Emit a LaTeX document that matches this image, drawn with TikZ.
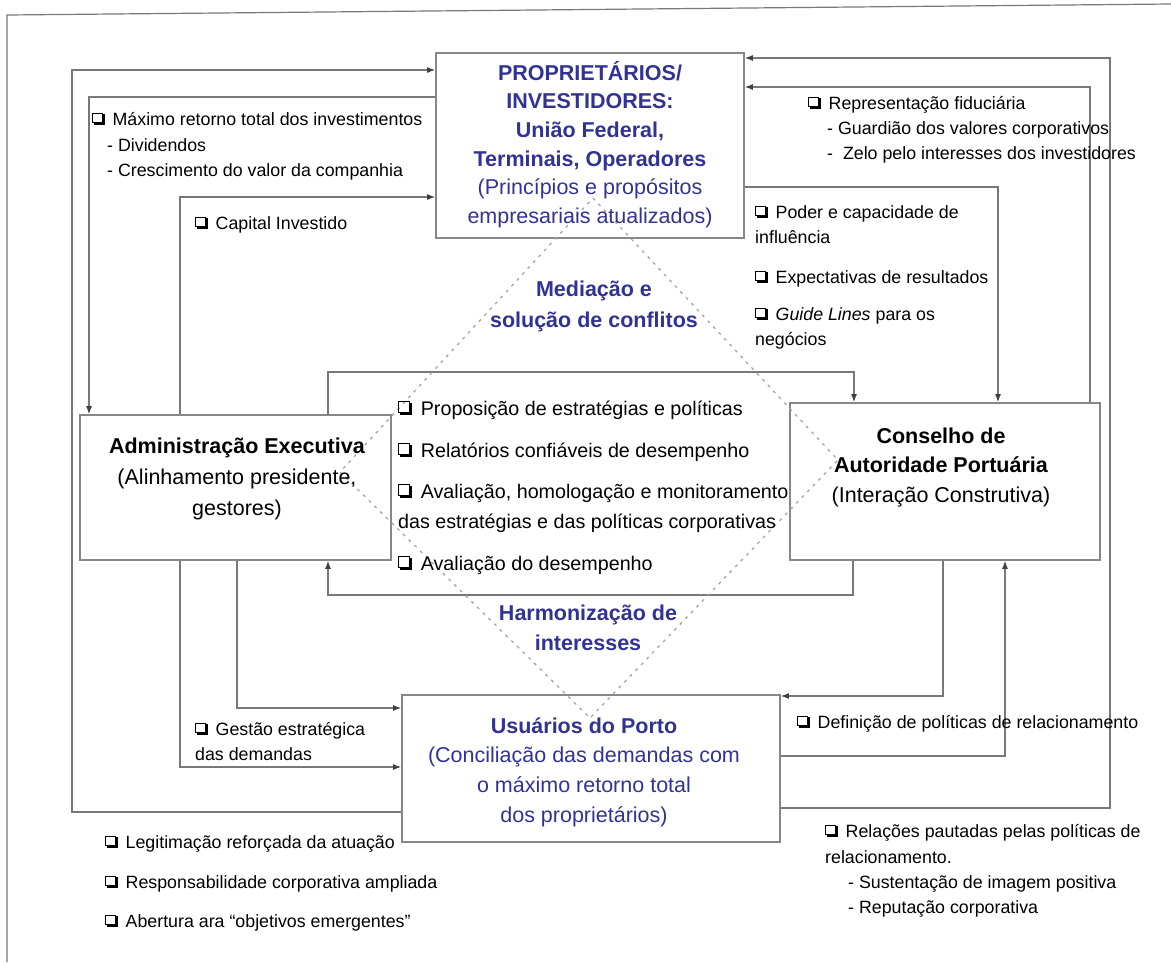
\documentclass[tikz,border=0pt]{standalone}
\usepackage{fontspec}
\setmainfont{Liberation Sans}
\usetikzlibrary{arrows.meta}
\definecolor{tblue}{RGB}{50,50,150}
\definecolor{lgray}{RGB}{120,120,120}
\definecolor{bgray}{RGB}{135,135,135}
\definecolor{dgray}{RGB}{165,165,165}
\newcommand\qglyph{%
  \rlap{\kern0.1em\rule{0.6em}{0.1em}}%
  \rlap{\kern0.6em\rule{0.1em}{0.6em}}%
  \rlap{\rule[0.1em]{0.06em}{0.6em}}%
  \rlap{\rule[0.64em]{0.6em}{0.06em}}%
  \rlap{\rule[0.1em]{0.6em}{0.06em}}%
  \rlap{\kern0.54em\rule[0.1em]{0.06em}{0.6em}}}
\newcommand\qbox{\makebox[1.15em][l]{\qglyph}}
\newcommand\st{\rule{0pt}{1em}}
\begin{document}
\begin{tikzpicture}[x=1pt,y=-1pt,
  small/.style={font=\fontsize{17.8}{26}\selectfont, inner sep=0pt, anchor=base west},
  mid/.style={font=\fontsize{19.7}{28}\selectfont, inner sep=0pt, anchor=base west},
  big/.style={inner sep=0pt, align=center, anchor=north},
  boxn/.style={draw=bgray, line width=1.6pt, inner sep=0pt},
  ln/.style={draw=lgray, line width=1.3pt},
  arr/.style={ln, -{Latex[length=8pt,width=6pt,color=black!75]}},
  dia/.style={draw=dgray, line width=1.3pt, dash pattern=on 3pt off 5pt}]
\useasboundingbox (0,0) rectangle (1171,962);
% frame
\draw[draw=lgray, line width=1.2pt] (7,962) -- (7,15) -- (1171,4);
% boxes
\node[boxn, minimum width=308pt, minimum height=185pt] (prop) at (590,145.5) {};
\node[boxn, minimum width=311pt, minimum height=145pt] (admin) at (235.5,487.5) {};
\node[boxn, minimum width=310pt, minimum height=157pt] (cons) at (945,481.5) {};
\node[boxn, minimum width=378pt, minimum height=147pt] (usu) at (591,768.5) {};
% connectors
\draw[arr] (usu.west |- 0,812) -| (72,70) -- (prop.west |- 0,70);
\draw[arr] (prop.west |- 0,97) -| (89,0 |- admin.north);
\draw[arr] (180,0 |- admin.north) |- (prop.west |- 0,197);
\draw[arr] (328,0 |- admin.north) |- (854,372) -- (854,0 |- cons.north);
\draw[arr] (prop.east |- 0,187) -| (998,0 |- cons.north);
\draw[arr] (1090,0 |- cons.north) |- (prop.east |- 0,87);
\draw[arr] (usu.east |- 0,808) -| (1110,58) -- (prop.east |- 0,58);
\draw[arr] (853,0 |- cons.south) |- (328,595) -- (328,0 |- admin.south);
\draw[arr] (237,0 |- admin.south) |- (usu.west |- 0,708);
\draw[arr] (180,0 |- admin.south) |- (usu.west |- 0,767);
\draw[arr] (943,0 |- cons.south) |- (usu.east |- 0,696);
\draw[arr] (usu.east |- 0,756) -| (1005,0 |- cons.south);
% diamond
\draw[dia] (593,198) -- (838,460) -- (590,718) -- (340,472) -- cycle;
% box texts
\node[big, text=tblue, font=\fontsize{21.5}{28.6}\selectfont] (ptxt) at (590,58.5)
  {\st\textbf{PROPRIETÁRIOS/}\\\textbf{INVESTIDORES:}\\\textbf{União Federal,}\\\textbf{Terminais, Operadores}\\(Princípios e propósitos\\empresariais atualizados)};
\node[big, font=\fontsize{21.5}{31}\selectfont] (atxt) at (237,431.5)
  {\st\textbf{Administração Executiva}\\(Alinhamento presidente,\\gestores)};
\node[big, font=\fontsize{21.5}{29.5}\selectfont] (ctxt) at (941,421.5)
  {\st\textbf{Conselho de}\\\textbf{Autoridade Portuária}\\(Interação Construtiva)};
\node[big, text=tblue, font=\fontsize{21.5}{29.7}\selectfont] (utxt) at (584,711.5)
  {\st\textbf{Usuários do Porto}\\(Conciliação das demandas com\\o máximo retorno total\\dos proprietários)};
\node[big, text=tblue, font=\bfseries\fontsize{21.5}{31}\selectfont] (med) at (594,274.5)
  {\st Mediação e\\solução de conflitos};
\node[big, text=tblue, font=\bfseries\fontsize{21.5}{30}\selectfont] (har) at (588,598.5)
  {\st Harmonização de\\interesses};
% top-left labels
\node[small] (t1) at (92,125) {\qbox Máximo retorno total dos investimentos};
\node[small] (t2) at (107,151) {- Dividendos};
\node[small] (t3) at (107,176) {- Crescimento do valor da companhia};
\node[small] (t4) at (195,229) {\qbox Capital Investido};
% top-right labels
\node[small] (t5) at (808,109) {\qbox Representação fiduciária};
\node[small] (t6) at (827,134) {- Guardião dos valores corporativos};
\node[small] (t7) at (827,159) {-\ \ Zelo pelo interesses dos investidores};
\node[small] (t8) at (755,218) {\qbox Poder e capacidade de};
\node[small] (t9) at (755,243) {influência};
\node[small] (t10) at (755,283) {\qbox Expectativas de resultados};
\node[small] (t11) at (755,320) {\qbox \textit{Guide Lines} para os};
\node[small] (t12) at (755,345) {negócios};
% middle list
\node[mid] (m1) at (398,415) {\qbox Proposição de estratégias e políticas};
\node[mid] (m2) at (398,457) {\qbox Relatórios confiáveis de desempenho};
\node[mid] (m3) at (398,498) {\qbox Avaliação, homologação e monitoramento};
\node[mid] (m4) at (398,528) {das estratégias e das políticas corporativas};
\node[mid] (m5) at (398,570) {\qbox Avaliação do desempenho};
% lower labels
\node[small] (g1) at (195,735) {\qbox Gestão estratégica};
\node[small] (g2) at (195,760) {das demandas};
\node[small] (d1) at (797,728) {\qbox Definição de políticas de relacionamento};
\node[small] (b1) at (105,848) {\qbox Legitimação reforçada da atuação};
\node[small] (b2) at (105,888) {\qbox Responsabilidade corporativa ampliada};
\node[small] (b3) at (105,927) {\qbox Abertura ara “objetivos emergentes”};
\node[small] (r1) at (825,837) {\qbox Relações pautadas pelas políticas de};
\node[small] (r2) at (825,863) {relacionamento.};
\node[small] (r3) at (848,888) {- Sustentação de imagem positiva};
\node[small] (r4) at (848,913) {- Reputação corporativa};
\end{tikzpicture}
\end{document}
